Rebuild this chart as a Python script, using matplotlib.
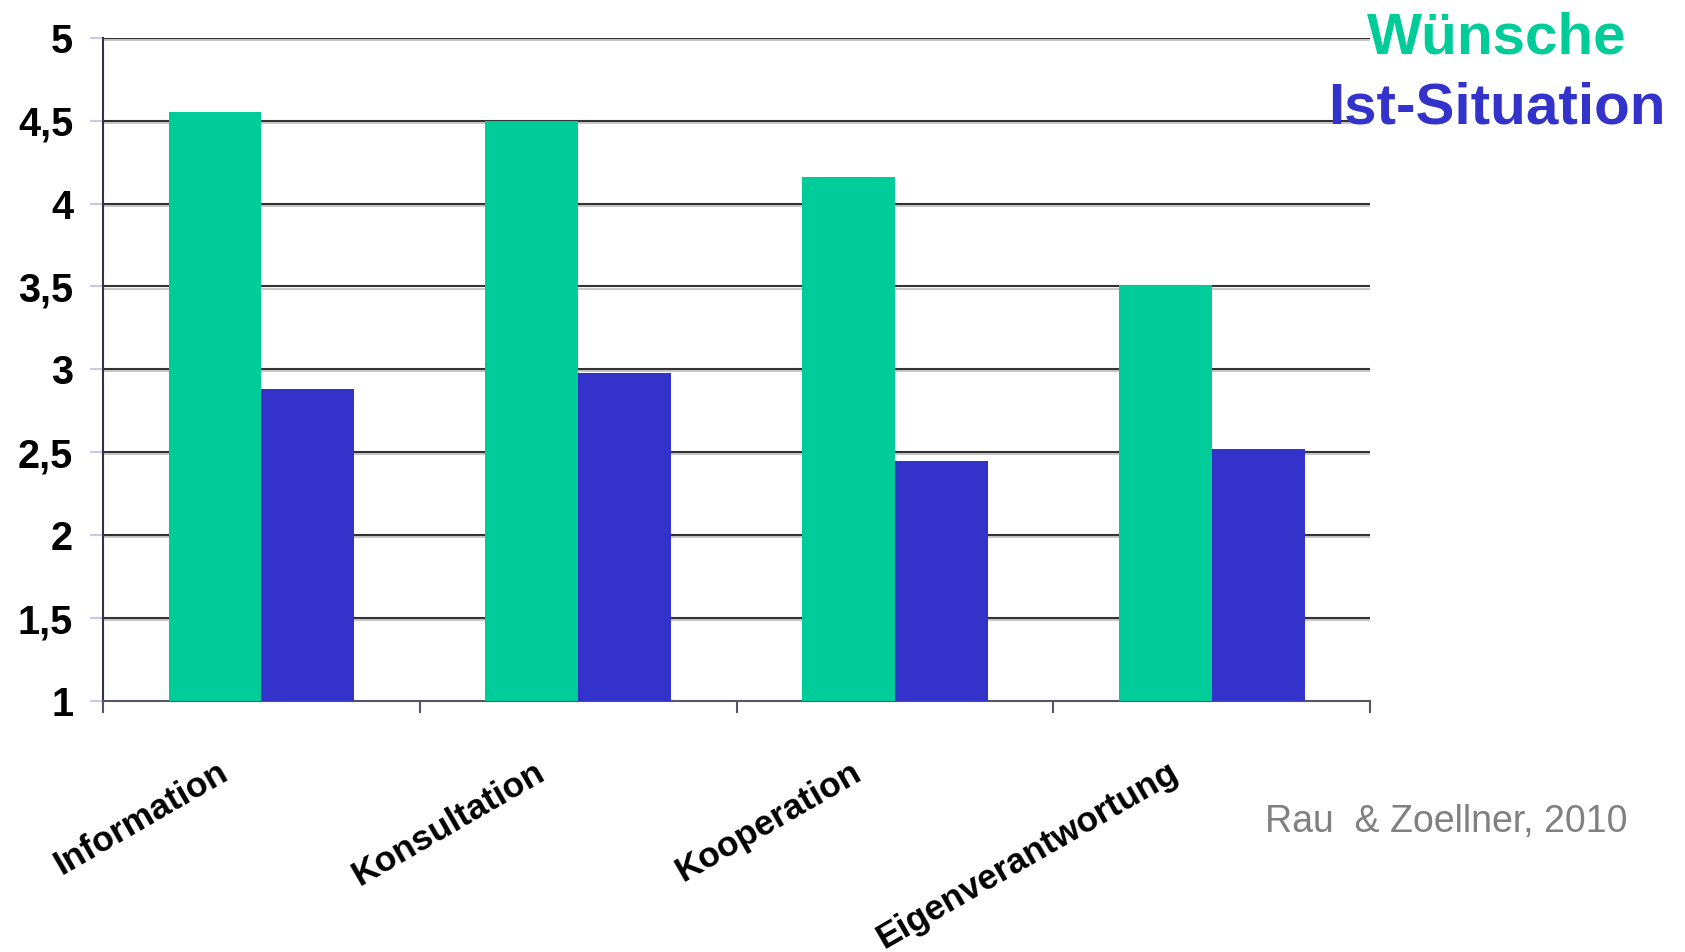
import numpy as np
import matplotlib
matplotlib.use('Agg')
import matplotlib.pyplot as plt
import matplotlib.patheffects as pe
import matplotlib.transforms as mtransforms

plt.rcParams['font.family'] = ['Liberation Sans', 'DejaVu Sans']

categories = ['Information', 'Konsultation', 'Kooperation', 'Eigenverantwortung']
wuensche = [4.55, 4.5, 4.16, 3.51]
ist = [2.88, 2.98, 2.45, 2.52]
yticks = [1, 1.5, 2, 2.5, 3, 3.5, 4, 4.5, 5]
ytick_labels = ['1', '1,5', '2', '2,5', '3', '3,5', '4', '4,5', '5']

green = '#00CC99'
blue = '#3333CC'

fig = plt.figure(figsize=(16.85, 9.52), dpi=100)
ax = fig.add_axes([0.0611, 0.2637, 0.752, 0.6967])

x = np.arange(len(categories))
w = 0.293
ax.bar(x - w / 2, wuensche, w, color=green, zorder=3)
ax.bar(x + w / 2, ist, w, color=blue, zorder=3)

ax.set_xlim(-0.5, len(categories) - 0.5)
ax.set_ylim(1, 5)

# gridlines with a light shadow underneath
for y in yticks[1:]:
    ax.axhline(y, color='#333333', lw=1.5, zorder=1,
               path_effects=[pe.SimpleLineShadow(offset=(0, -1.5), shadow_color='#c8c8c8', alpha=1),
                             pe.Normal()])

for s in ['top', 'right']:
    ax.spines[s].set_visible(False)
ax.spines['left'].set_color('#333344')
ax.spines['left'].set_linewidth(1.5)
ax.spines['bottom'].set_color('#555566')
ax.spines['bottom'].set_linewidth(1.5)

ax.set_yticks(yticks)
ax.set_yticklabels(ytick_labels, fontsize=28.5, fontweight='bold')
ax.tick_params(axis='y', length=9.4, width=1.5, color='#c8c8e8', pad=12)

ax.set_xticks(np.arange(-0.5, len(categories), 1.0))
ax.set_xticklabels([])
ax.tick_params(axis='x', length=8.6, width=1.5, color='#555566')

# rotated category labels
trans = mtransforms.offset_copy(ax.get_xaxis_transform(), fig=fig, x=-44, y=-54, units='dots')
for i, name in enumerate(categories):
    ax.text(i, 0, name, transform=trans, rotation=30, rotation_mode='anchor',
            ha='right', va='top', fontsize=25.5, fontweight='bold')

# legend as coloured text
fig.text(1497 / 1685, 1 - 53 / 952, 'Wünsche', color=green, fontsize=42,
         fontweight='bold', ha='center', va='baseline')
fig.text(1497 / 1685, 1 - 123 / 952, 'Ist-Situation', color=blue, fontsize=42,
         fontweight='bold', ha='center', va='baseline')

fig.text(1265 / 1685, 1 - 832 / 952, 'Rau  & Zoellner, 2010', color='#808080',
         fontsize=27, ha='left', va='baseline')

fig.savefig('out.png', dpi=100)
